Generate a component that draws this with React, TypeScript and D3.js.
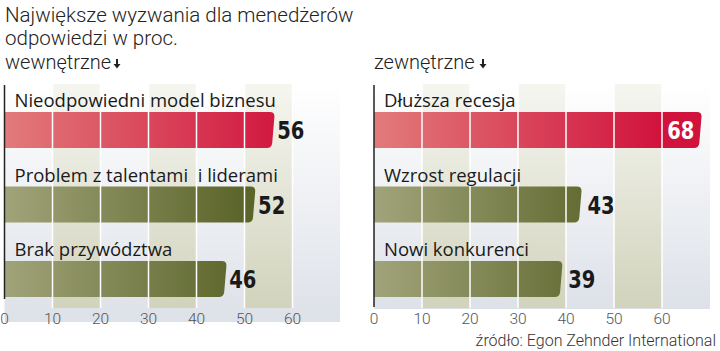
import React from 'react';
import * as d3 from 'd3';

// data
const internalLabels = ['Nieodpowiedni model biznesu', 'Problem z talentami  i liderami', 'Brak przywództwa'];
const internalValues = [56, 52, 46];
const externalLabels = ['Dłuższa recesja', 'Wzrost regulacji', 'Nowi konkurenci'];
const externalValues = [68, 43, 39];
const ticks = [0, 10, 20, 30, 40, 50, 60];
const bandStarts = [10, 30, 50];

const W = 720;
const H = 351;

const titleFont = 'Roboto, "Noto Sans", sans-serif';
const labelFont = '"Open Sans", Roboto, sans-serif';
const valueFont = '"DejaVu Sans", sans-serif';

type PanelProps = {
  id: string;
  labels: string[];
  values: number[];
  x0: number;
  panelRight: number;
  panelBottom: number;
  axisBottom: number;
  labelOffset: number;
};

function barPath(xa: number, xb: number, top: number, bot: number) {
  const r = 5;
  const xt = xb + 1.5;
  const xbot = xb - 1.5;
  return [
    `M${xa},${top}`,
    `H${xt - r}`,
    `Q${xt},${top} ${xt - 0.4},${top + r}`,
    `L${xbot + 0.4},${bot - r}`,
    `Q${xbot},${bot} ${xbot - r},${bot}`,
    `H${xa}Z`,
  ].join(' ');
}

const Panel: React.FC<PanelProps> = ({ id, labels, values, x0, panelRight, panelBottom, axisBottom, labelOffset }) => {
  const x = d3.scaleLinear().domain([0, 60]).range([x0, x0 + 288]);
  const y = d3.scaleBand<number>().domain(d3.range(labels.length)).range([87, 310.5]).padding(0);
  const top = 84;
  const barH = 36;

  return (
    <g>
      <rect x={x0} y={top} width={panelRight - x0} height={panelBottom - top} fill="url(#bgGrad)" />
      {bandStarts.map(b => (
        <rect key={b} x={x(b)} y={top} width={x(b + 10) - x(b)} height={308 - top} fill="url(#bandGrad)" />
      ))}
      {values.map((v, i) => (
        <path
          key={i}
          d={barPath(x(0), x(v), y(i)! + 25, y(i)! + 25 + barH)}
          fill={i === 0 ? `url(#red-${id})` : `url(#olive-${id})`}
        />
      ))}
      {ticks.slice(1).map(t => (
        <line key={t} x1={x(t)} x2={x(t)} y1={top} y2={308} stroke="#fff" strokeWidth={1.5} />
      ))}
      {labels.map((lab, i) => {
        const by = y(i)! + 25;
        const v = values[i];
        const inside = i === 0 && v > 60;
        const tx = inside ? x(v) - 6 : x(v) + labelOffset;
        return (
          <g key={lab}>
            <text x={x0 + 10} y={y(i)! + 20} fontFamily={labelFont} fontSize={18.5} fill="#1a1a1a" style={{ whiteSpace: 'pre' }}>
              {lab}
            </text>
            <text
              transform={`translate(${tx},${by + 27}) scale(0.78,1)`}
              textAnchor={inside ? 'end' : 'start'}
              fontFamily={valueFont}
              fontWeight="bold"
              fontSize={25}
              fill={inside ? '#fff' : '#1a1a1a'}
            >
              {v}
            </text>
          </g>
        );
      })}
      <line x1={x0} x2={x0} y1={top + 1} y2={axisBottom} stroke="#222" strokeWidth={1.5} />
      {ticks.map(t => (
        <text key={t} x={x(t)} y={323.5} textAnchor="middle" fontFamily={titleFont} fontWeight={300} fontSize={15.5} fill="#555">
          {t}
        </text>
      ))}
      <defs>
        <linearGradient id={`red-${id}`} gradientUnits="userSpaceOnUse" x1={x0} x2={x(60)} y1={0} y2={0}>
          <stop offset="0" stopColor="#e27b7b" />
          <stop offset="1" stopColor="#d1123c" />
        </linearGradient>
        <linearGradient id={`olive-${id}`} gradientUnits="userSpaceOnUse" x1={x0} x2={x(50)} y1={0} y2={0}>
          <stop offset="0" stopColor="#a1a47a" />
          <stop offset="1" stopColor="#5b6429" />
        </linearGradient>
      </defs>
    </g>
  );
};

const Arrow: React.FC<{ x: number; y: number }> = ({ x, y }) => (
  <path d={`M${x - 1},${y} h2 v5 h2.5 l-3.5,4.5 l-3.5,-4.5 h2.5 Z`} fill="#222" />
);

export default function App() {
  return (
    <svg width={W} height={H} style={{ position: 'absolute', left: 0, top: 0, background: '#fff' }}>
      <defs>
        <linearGradient id="bgGrad" x1="0" x2="0" y1="0" y2="1">
          <stop offset="0" stopColor="#ffffff" />
          <stop offset="1" stopColor="#dde1e8" />
        </linearGradient>
        <linearGradient id="bandGrad" x1="0" x2="0" y1="0" y2="1">
          <stop offset="0" stopColor="#f6f6f1" />
          <stop offset="1" stopColor="#d1d3bc" />
        </linearGradient>
      </defs>
      <text x={5} y={22} fontFamily={titleFont} fontWeight={300} fontSize={20.5} fill="#222">
        Największe wyzwania dla menedżerów
      </text>
      <text x={5} y={45} fontFamily={titleFont} fontWeight={300} fontSize={20.5} fill="#222">
        odpowiedzi w proc.
      </text>
      <text x={5} y={69} fontFamily={titleFont} fontWeight={300} fontSize={20} fill="#222">
        wewnętrzne
      </text>
      <Arrow x={117} y={59} />
      <text x={374} y={69} fontFamily={titleFont} fontWeight={300} fontSize={20} fill="#222">
        zewnętrzne
      </text>
      <Arrow x={483} y={59} />
      <Panel id="in" labels={internalLabels} values={internalValues} x0={4.5} panelRight={340} panelBottom={322} axisBottom={299} labelOffset={4} />
      <Panel id="ex" labels={externalLabels} values={externalValues} x0={374} panelRight={710} panelBottom={309} axisBottom={307} labelOffset={7} />
      <text x={716} y={346} textAnchor="end" fontFamily={titleFont} fontWeight={300} fontSize={16} fill="#333">
        źródło: Egon Zehnder International
      </text>
    </svg>
  );
}
